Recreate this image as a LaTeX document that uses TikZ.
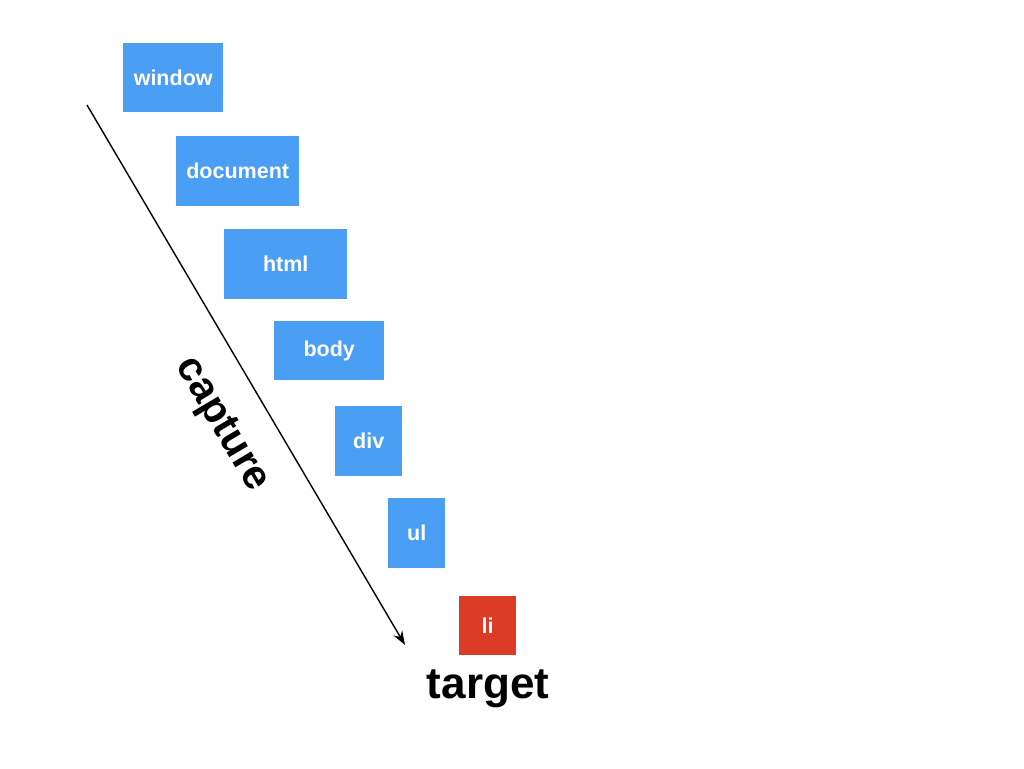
\documentclass[tikz,border=0pt]{standalone}
\usepackage{fontspec}
\setmainfont{Liberation Sans}
\usetikzlibrary{arrows.meta}
\definecolor{boxblue}{HTML}{4A9FF5}
\definecolor{boxred}{HTML}{DC3B26}
\tikzset{
  elem/.style={fill=boxblue, text=white, font=\fontsize{21.5}{24}\selectfont\bfseries, inner sep=0pt, anchor=north west},
  elemred/.style={elem, fill=boxred},
}
\begin{document}
\begin{tikzpicture}[x=1pt,y=-1pt]
\useasboundingbox (0,0) rectangle (1024,768);
\node[elem, minimum width=100pt, minimum height=69pt] (window) at (123,43) {window};
\node[elem, minimum width=123pt, minimum height=70pt] (document) at (176,136) {document};
\node[elem, minimum width=123pt, minimum height=70pt] (html) at (224,229) {html};
\node[elem, minimum width=110pt, minimum height=59pt] (body) at (274,321) {body};
\node[elem, minimum width=67pt, minimum height=70pt] (div) at (335,406) {div};
\node[elem, minimum width=57pt, minimum height=70pt] (ul) at (388,498) {ul};
\node[elemred, minimum width=57pt, minimum height=59pt] (li) at (459,596) {li};
\node[font=\fontsize{44}{48}\selectfont\bfseries, inner sep=0pt] (target) at (488,689) {target};
\coordinate (start) at (87,105);
\coordinate (end) at (405,645);
\draw[line width=1.4pt, -{Stealth[length=14pt,width=10pt]}] (start) -- (end);
\node[font=\fontsize{41}{45}\selectfont\bfseries, rotate=-59.5, inner sep=0pt] (capture) at (221,425) {capture};
\end{tikzpicture}
\end{document}
